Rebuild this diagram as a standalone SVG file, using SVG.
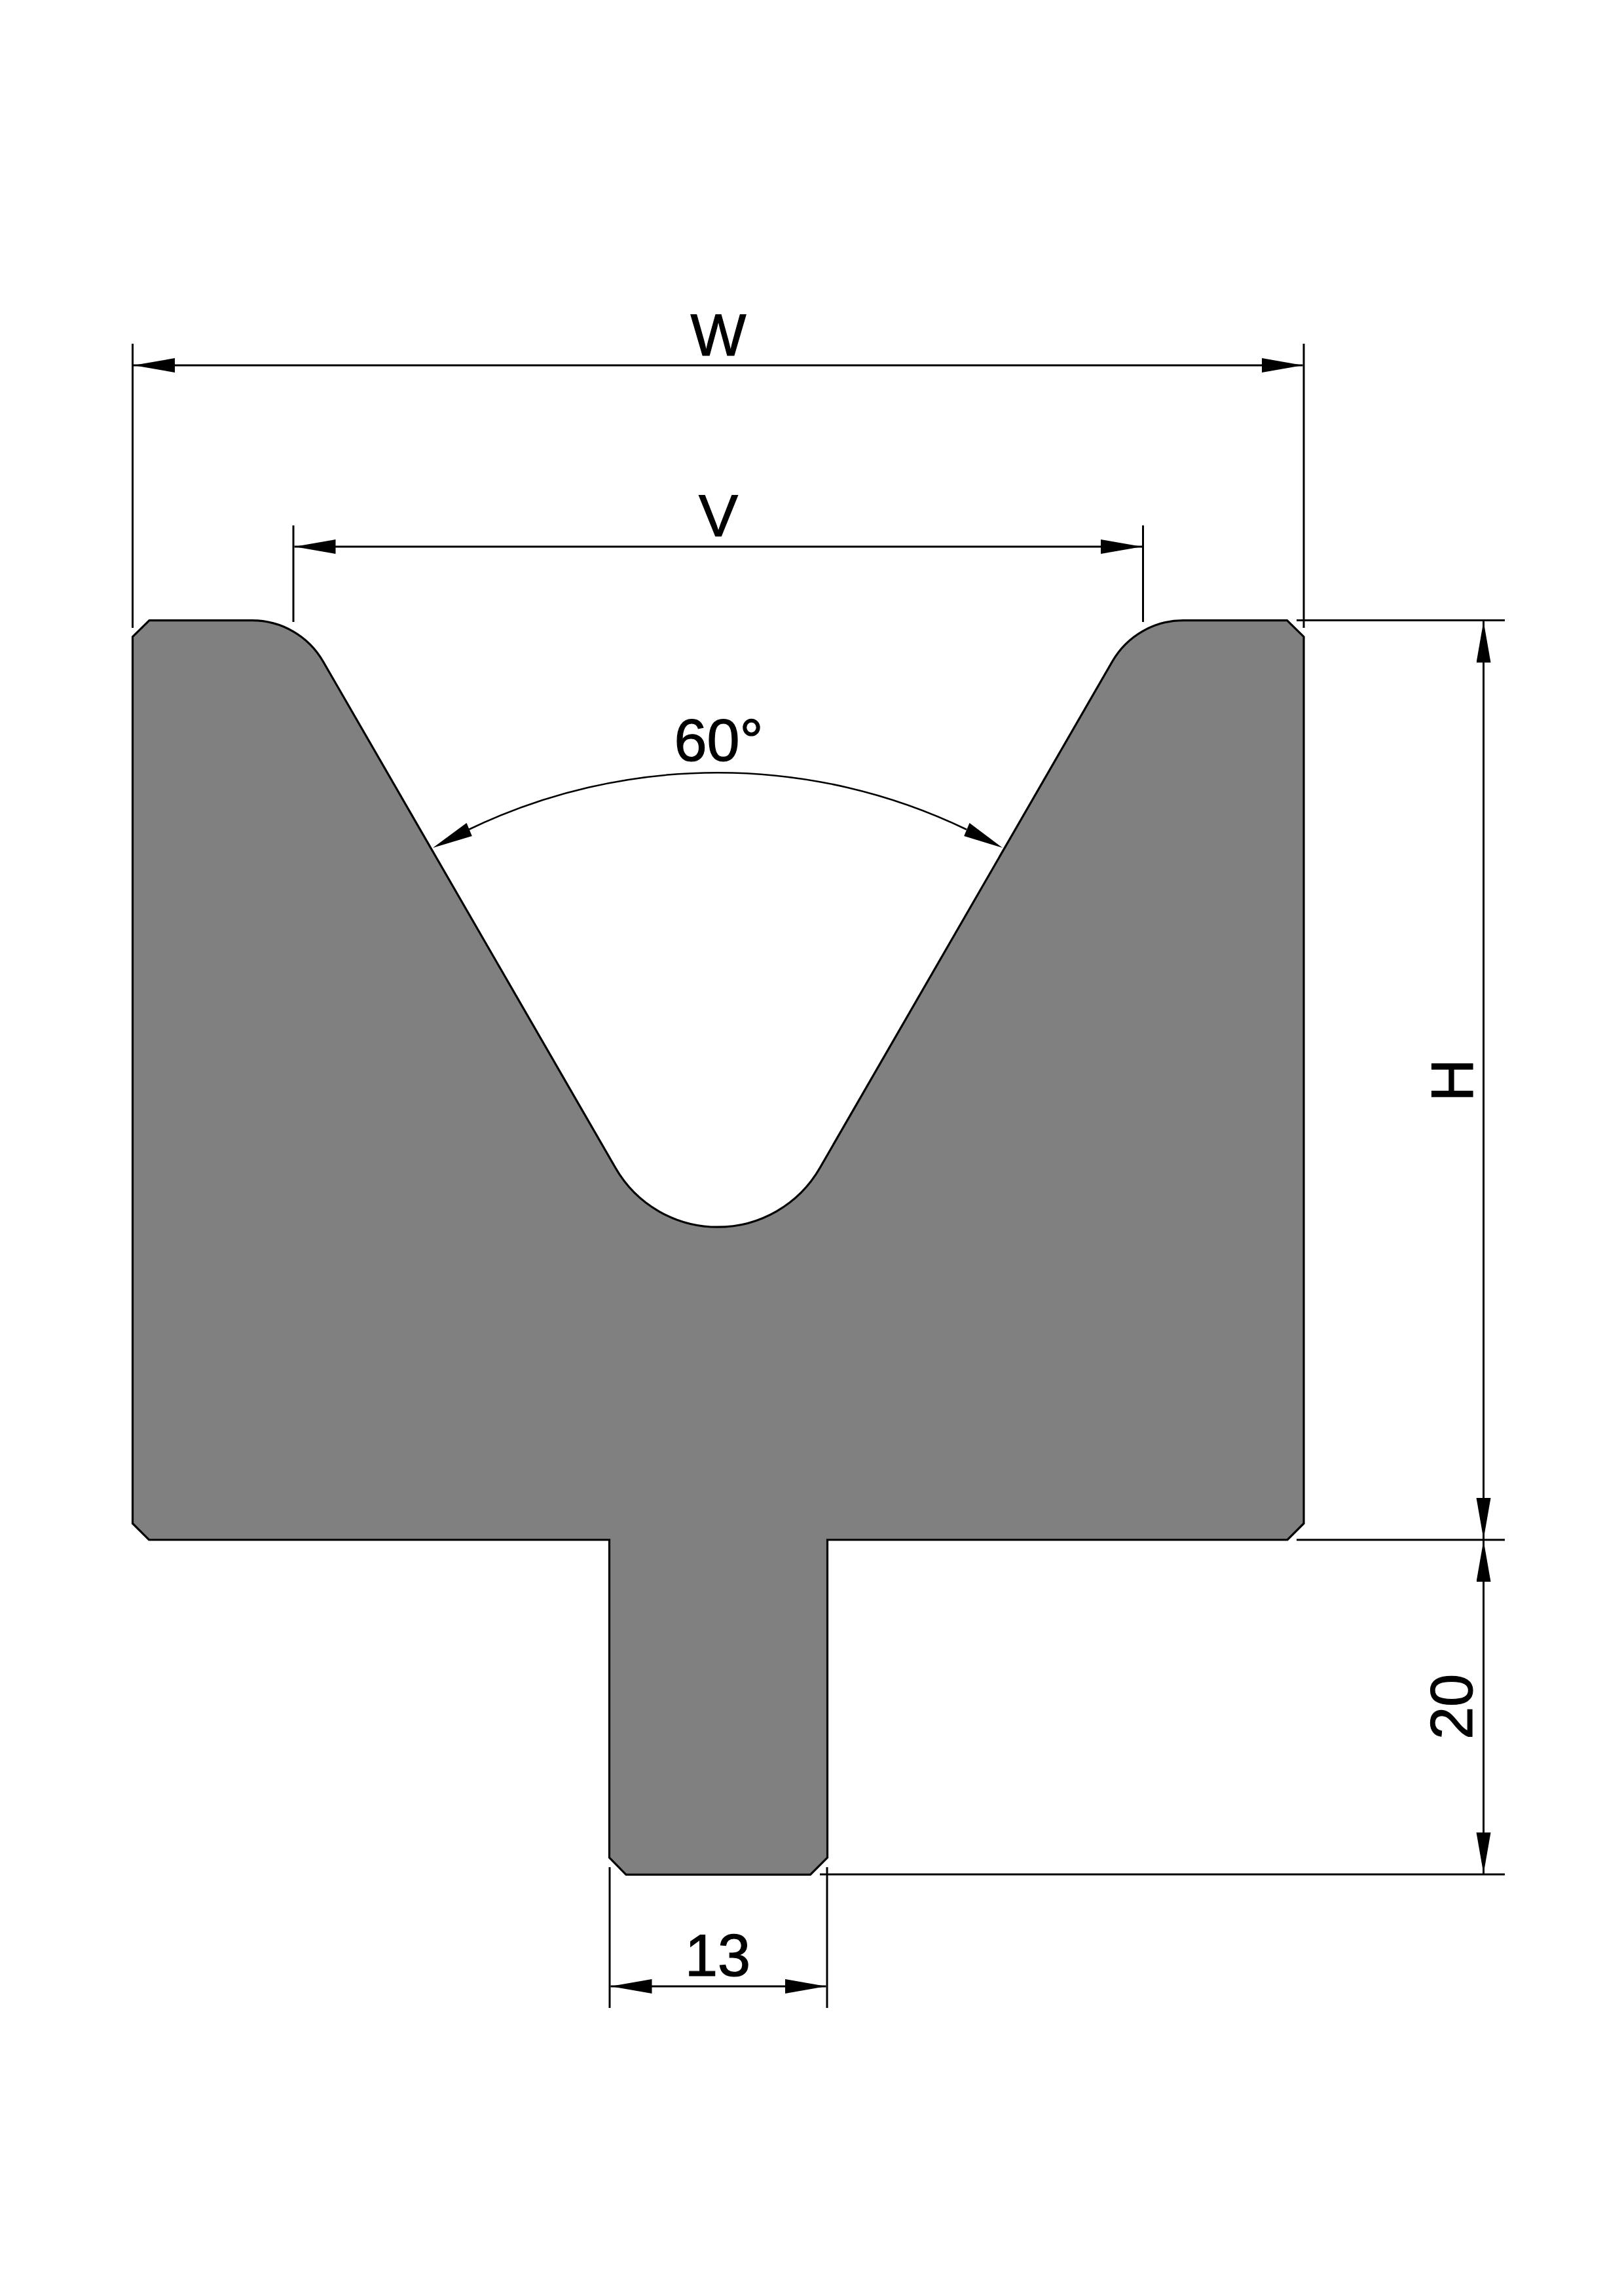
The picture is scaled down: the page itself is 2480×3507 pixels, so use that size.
<svg xmlns="http://www.w3.org/2000/svg" width="2480" height="3507" viewBox="0 0 2480 3507">
  <style>
    .dim { fill: none; stroke: #000; stroke-width: 3; }
    .arr { marker-start: url(#head); marker-end: url(#head); }
    .body { fill: #808080; stroke: #000; stroke-width: 3.2; stroke-linejoin: miter; }
    .lbl { font-family: "Liberation Sans", Arial, sans-serif; font-size: 90px; fill: #000; stroke: #000; stroke-width: 1.2; text-anchor: middle; }
    .head { fill: #000; stroke: none; }
  </style>
  <defs>
    <marker id="head" markerUnits="userSpaceOnUse" markerWidth="64" markerHeight="24" refX="63" refY="11" orient="auto-start-reverse" viewBox="0 0 64 24">
      <path d="M0 0L63 11L0 22Z" fill="#000"/>
    </marker>
  </defs>
  <rect width="2480" height="3507" fill="#fff"/>
  <g id="profile">
    <path class="body" d="M202.5 972.6 L228 947.6 H385 A125 125 0 0 1 493.2 1010 L940 1784 A180 180 0 0 0 1252 1784 L1698.8 1010 A125 125 0 0 1 1807 947.6 H1965.5 L1991 972.6 V2327 L1966 2352 H1263.5 V2837.3 L1237.5 2863.3 H956 L930.5 2837.3 V2352 H227.5 L202.5 2327 Z"/>
  </g>
  <g id="connectors">
    <g id="extension-lines">
      <path class="dim" d="M202.5 525V959"/>
      <path class="dim" d="M1991 525V959"/>
      <path class="dim" d="M448 802.5V950"/>
      <path class="dim" d="M1745.5 802.5V950"/>
      <path class="dim" d="M1980 947.6H2298"/>
      <path class="dim" d="M1980 2352H2298"/>
      <path class="dim" d="M1252 2863H2298"/>
      <path class="dim" d="M931 2852V3067"/>
      <path class="dim" d="M1263 2852V3067"/>
    </g>
    <path id="dim-w" class="dim arr" d="M204 558H1989.5"/>
    <path id="dim-v" class="dim arr" d="M449.5 835H1744"/>
    <path id="dim-h" class="dim arr" d="M2265.5 949V2351"/>
    <path id="dim-20" class="dim arr" d="M2265.5 2353V2862"/>
    <path id="dim-13" class="dim arr" d="M932.5 3034H1261.5"/>
    <g id="dim-angle">
      <path class="dim" style="stroke-width:2.5" d="M716 1267A875 875 0 0 1 1476 1267"/>
      <polygon class="head" points="661,1295 712.5,1257 720.8,1277"/>
      <polygon class="head" points="1531,1295 1480.5,1257 1472.2,1277"/>
    </g>
  </g>
  <g id="labels">
    <text id="label-w" class="lbl" x="1097" y="542.7">W</text>
    <text id="label-v" class="lbl" x="1097" y="819.3">V</text>
    <text id="label-angle" class="lbl" x="1097.5" y="1162">60°</text>
    <text id="label-h" class="lbl" transform="translate(2249 1650) rotate(-90)">H</text>
    <text id="label-20" class="lbl" transform="translate(2248 2607) rotate(-90)">20</text>
    <text id="label-13" class="lbl" x="1096" y="3018">13</text>
  </g>
</svg>
